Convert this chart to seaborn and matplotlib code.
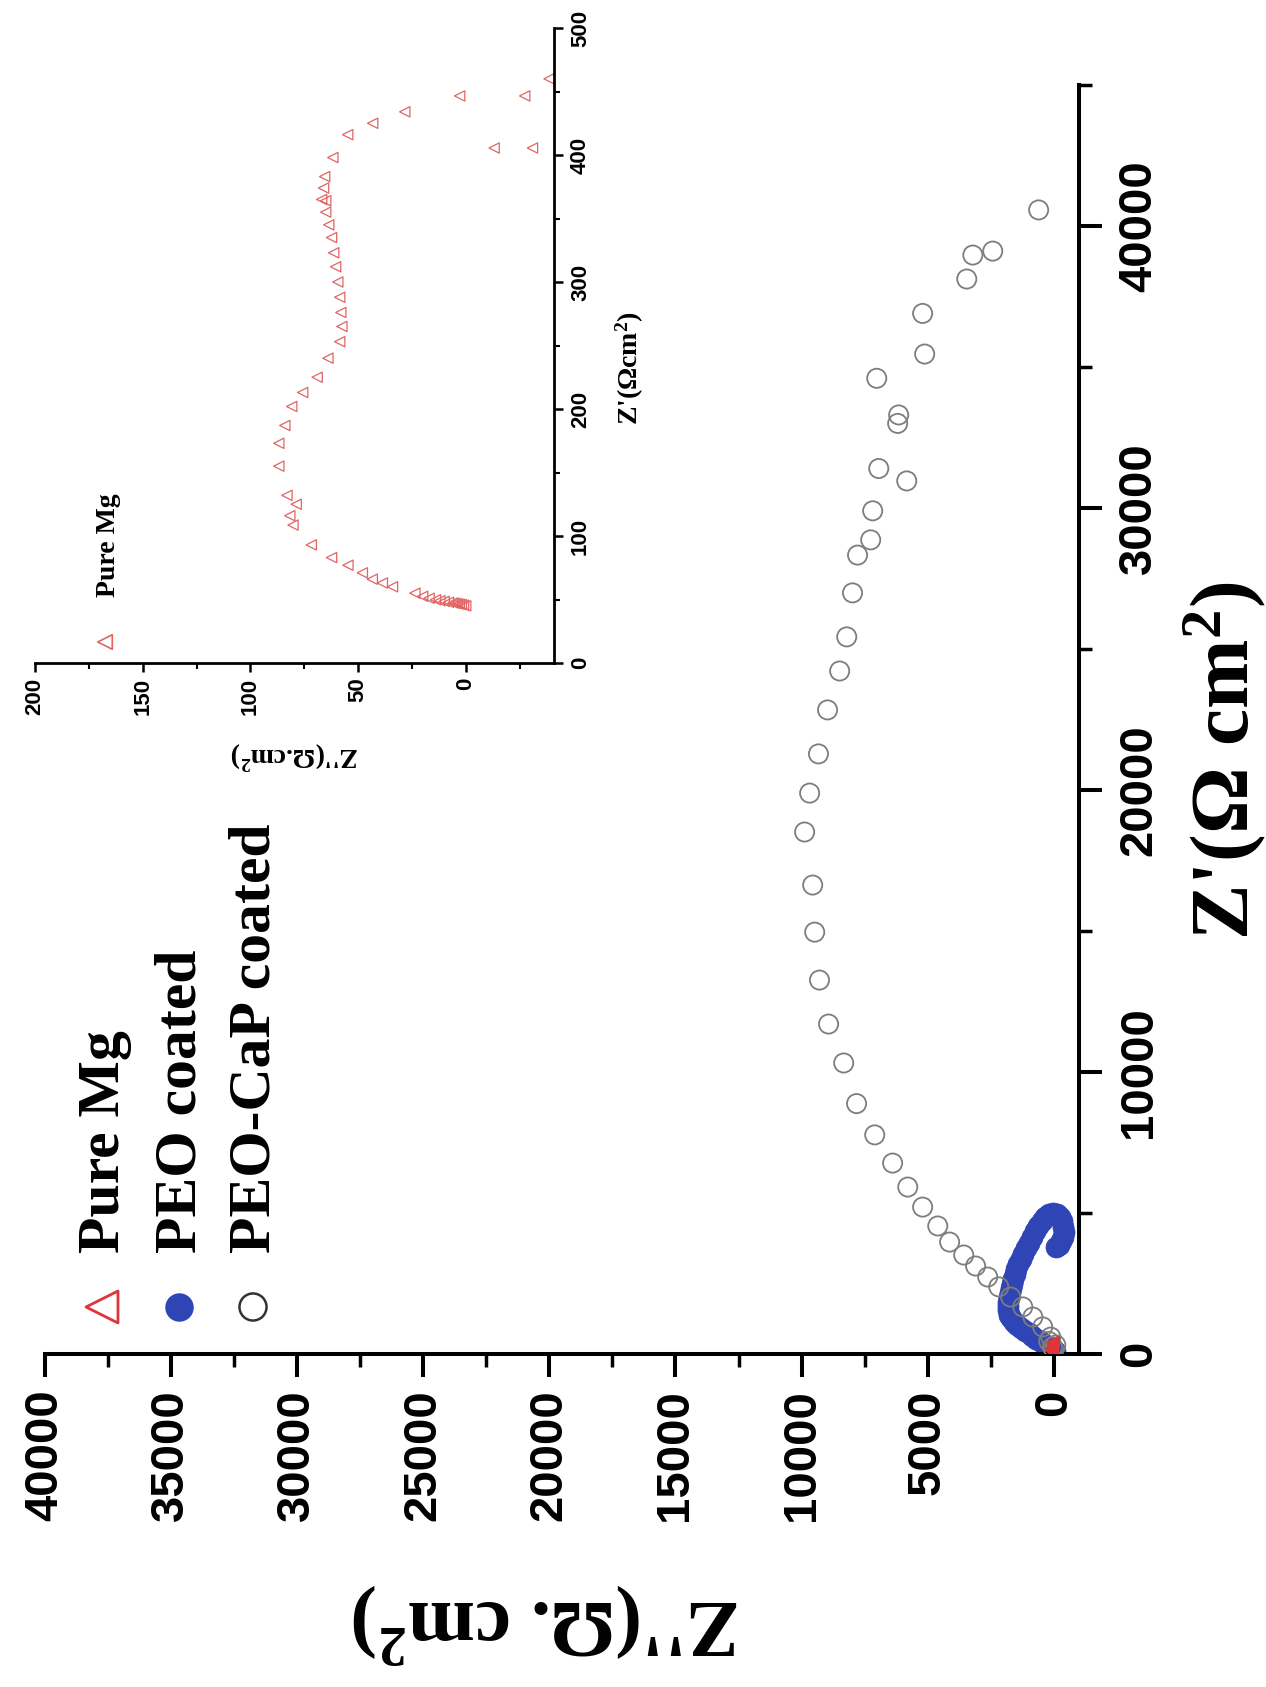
import numpy as np
import pandas as pd
import seaborn as sns
import matplotlib.pyplot as plt
from matplotlib.ticker import MultipleLocator
from matplotlib import font_manager as fm

# ---------------- data (Z'' , Z' in ohm cm^2) ----------------
# PEO-CaP coated (open circles), values in kOhm cm^2
cap_zpp = [0.00, 0.05, 0.20, -0.08, 0.12, 0.44, 0.83, 1.23, 1.71, 2.18, 2.62, 3.10, 3.57,
           4.13, 4.60, 5.20, 5.79, 6.39, 7.10, 7.82, 8.33, 8.93, 9.29, 9.48, 9.56, 9.88,
           9.68, 9.33, 8.97, 8.49, 8.21, 7.98, 7.78, 7.26, 7.18, 5.83, 6.94, 6.19, 6.15,
           7.02, 5.12, 5.20, 3.45, 3.21, 2.42, 0.60]
cap_zp = [0.15, 0.25, 0.45, 0.32, 0.60, 0.96, 1.31, 1.67, 2.02, 2.38, 2.73, 3.12, 3.51,
          3.97, 4.54, 5.21, 5.92, 6.77, 7.77, 8.88, 10.32, 11.70, 13.26, 14.96, 16.63, 18.51,
          19.89, 21.28, 22.84, 24.22, 25.43, 26.99, 28.33, 28.87, 29.90, 30.96, 31.40, 33.00, 33.30,
          34.60, 35.46, 36.90, 38.12, 38.97, 39.11, 40.57]

# PEO coated (filled blue circles), values in kOhm cm^2
peo_zpp = [-0.05, 0.10, 0.25, 0.40, 0.55, 0.70, 0.85, 1.00, 1.15, 1.30, 1.45, 1.58, 1.70,
           1.78, 1.82, 1.82, 1.80, 1.77, 1.73, 1.69, 1.65, 1.60, 1.55, 1.48, 1.40, 1.31,
           1.21, 1.11, 1.00, 0.88, 0.75, 0.62, 0.48, 0.33, 0.18, 0.03, -0.12, -0.25, -0.34,
           -0.38, -0.39, -0.36, -0.30, -0.20, -0.08]
peo_zp = [0.10, 0.18, 0.27, 0.36, 0.45, 0.54, 0.63, 0.73, 0.83, 0.93, 1.04, 1.15, 1.27,
          1.40, 1.55, 1.70, 1.86, 2.02, 2.18, 2.34, 2.50, 2.66, 2.82, 3.00, 3.18, 3.37,
          3.56, 3.75, 3.95, 4.15, 4.35, 4.55, 4.72, 4.86, 4.96, 5.00, 4.96, 4.86, 4.70,
          4.52, 4.34, 4.16, 4.00, 3.88, 3.80]

# Pure Mg (open red triangles), values in Ohm cm^2
mg_zpp = [0, 1, 2, 3, 4, 5, 6, 8, 10, 12, 14, 17, 20, 23.6,
          34, 38.7, 43.4, 48, 54.7, 62.3, 71.7, 80.2, 81.7, 78.7, 83, 86.8, 86.8, 84, 80.8,
          75.7, 69, 64, 58.5, 57.5, 58, 58.5, 59.4, 60.4, 61.3, 62.3, 63.6, 65, 65, 66,
          66.9, 65.5, 61.7, 54.8, 43.2, 28.3, 2.8, -13.2, -27.4, -31, -38.7]
mg_zp = [45, 45.5, 46, 46.3, 46.6, 47, 47.3, 47.8, 48.5, 49, 49.8, 51, 52.5, 55,
         60, 63, 66, 71, 77, 83, 93, 108.6, 116, 125, 132, 155, 173, 187, 202,
         213, 225, 240, 253, 265, 276, 288, 300, 312, 323, 335, 345, 355, 364, 374,
         365, 383, 398, 416, 425, 434, 446.5, 405.5, 446.5, 405.5, 460]

legend_labels = ["Pure Mg", "PEO coated", "PEO-CaP coated"]
main_x_ticks = [0, 5000, 10000, 15000, 20000, 25000, 30000, 35000, 40000]
main_y_ticks = [0, 10000, 20000, 30000, 40000]
inset_x_ticks = [0, 50, 100, 150, 200]
inset_y_ticks = [0, 100, 200, 300, 400, 500]

cap = pd.DataFrame({"Zpp": np.array(cap_zpp) * 1000, "Zp": np.array(cap_zp) * 1000})
peo = pd.DataFrame({"Zpp": np.array(peo_zpp) * 1000, "Zp": np.array(peo_zp) * 1000})
mg = pd.DataFrame({"Zpp": mg_zpp, "Zp": mg_zp})

# ---------------- style ----------------
sns.set_theme(style="white")
plt.rcParams["font.family"] = ["Liberation Sans", "DejaVu Sans"]
plt.rcParams["mathtext.fontset"] = "custom"
plt.rcParams["mathtext.bf"] = "Liberation Serif:bold"
plt.rcParams["mathtext.rm"] = "Liberation Serif:bold"
plt.rcParams["mathtext.default"] = "bf"
for key in ["text.color", "axes.labelcolor", "xtick.color", "ytick.color",
            "xtick.labelcolor", "ytick.labelcolor"]:
    plt.rcParams[key] = "black"


def has_font(name):
    try:
        fm.findfont(fm.FontProperties(family=name), fallback_to_default=False)
        return True
    except Exception:
        return False


if has_font("Liberation Sans Narrow"):
    TICK_FAMILY = ["Liberation Sans Narrow", "Liberation Sans"]
    MAIN_TICK_SIZE = 41
else:
    TICK_FAMILY = ["Liberation Sans", "DejaVu Sans"]
    MAIN_TICK_SIZE = 34
SERIF = ["Liberation Serif", "DejaVu Serif"]

W, H = 1266, 1687
fig = plt.figure(figsize=(W / 100, H / 100), dpi=100)
fig.patch.set_facecolor("white")


def fx(px):
    return px / W


def fy(py):
    return 1 - py / H


BLUE = "#2f45b5"
RED = "#e0343a"
GREY = "#7d7d7d"

# ---------------- main axes ----------------
L, R, T, B = 45, 1079, 85, 1354
ax = fig.add_axes([fx(L), fy(B), fx(R) - fx(L), fy(T) - fy(B)])
ax.set_facecolor("white")

sns.scatterplot(data=cap, x="Zpp", y="Zp", ax=ax, marker="o", s=190,
                facecolors="none", edgecolor=GREY, linewidth=1.3, zorder=3)
coll = ax.collections[-1]
coll.set_facecolor("none"); coll.set_edgecolor(GREY)
sns.scatterplot(data=peo, x="Zpp", y="Zp", ax=ax, marker="o", s=230,
                color=BLUE, edgecolor=BLUE, linewidth=0.5, zorder=2)
sns.scatterplot(data=mg, x="Zpp", y="Zp", ax=ax, marker="<", s=45,
                facecolors="none", edgecolor=RED, linewidth=0.9, zorder=4)
coll = ax.collections[-1]
coll.set_facecolor("none"); coll.set_edgecolor(RED)

ax.set_xlim(40000, -1000)
ax.set_ylim(0, 45000)
ax.set_xlabel("")
ax.set_ylabel("")
for s in ["top", "left"]:
    ax.spines[s].set_visible(False)
for s in ["bottom", "right"]:
    ax.spines[s].set_linewidth(2.9)
    ax.spines[s].set_color("black")
ax.yaxis.tick_right()
ax.set_xticks(main_x_ticks)
ax.set_yticks(main_y_ticks)
ax.xaxis.set_minor_locator(MultipleLocator(2500))
ax.yaxis.set_minor_locator(MultipleLocator(5000))
ax.tick_params(which="major", direction="out", length=16.5, width=2.9, color="black")
ax.tick_params(which="minor", direction="out", length=9.4, width=2.5, color="black")
ax.tick_params(axis="x", which="both", bottom=True, top=False, pad=9)
ax.tick_params(axis="y", which="both", right=True, left=False, pad=11)
ax.set_xticklabels([str(t) for t in main_x_ticks], rotation=90, color="black",
                   fontsize=MAIN_TICK_SIZE, fontweight="bold", family=TICK_FAMILY)
ax.set_yticklabels([str(t) for t in main_y_ticks], rotation=90, va="center", color="black",
                   fontsize=MAIN_TICK_SIZE, fontweight="bold", family=TICK_FAMILY)

# axis titles (whole chart is rotated by 90 degrees)
fig.text(fx(1225), fy(761), "Z'(\u03a9 cm$^{2}$)", rotation=90, ha="center", va="center",
         fontsize=60, fontweight="bold", family=SERIF, color="black")
fig.text(fx(547), fy(1623), "Z''(\u03a9. cm$^{2}$)", rotation=180, ha="center", va="center",
         fontsize=58, fontweight="bold", family=SERIF, color="black")

# legend (manual, rotated)
leg_x = [102, 179, 253]
ax.scatter([fx(leg_x[0])], [fy(1307)], transform=fig.transFigure, marker="<", s=530,
           facecolors="none", edgecolors=RED, linewidths=2.0, clip_on=False)
ax.scatter([fx(leg_x[1])], [fy(1307)], transform=fig.transFigure, marker="o", s=380,
           facecolors=BLUE, edgecolors=BLUE, linewidths=1.0, clip_on=False)
ax.scatter([fx(leg_x[2])], [fy(1307)], transform=fig.transFigure, marker="o", s=380,
           facecolors="none", edgecolors="#333333", linewidths=1.8, clip_on=False)
for xp, lab in zip(leg_x, legend_labels):
    fig.text(fx(xp + 3), fy(1253), lab, rotation=90, ha="center", va="bottom",
             fontsize=43, fontweight="bold", family=SERIF, color="black")

# ---------------- inset ----------------
iL, iR, iT, iB = 35, 554, 28, 663
axi = fig.add_axes([fx(iL), fy(iB), fx(iR) - fx(iL), fy(iT) - fy(iB)])
axi.set_facecolor("none")
sns.scatterplot(data=mg, x="Zpp", y="Zp", ax=axi, marker="<", s=55,
                facecolors="none", edgecolor="#e06464", linewidth=0.9)
coll = axi.collections[-1]
coll.set_facecolor("none"); coll.set_edgecolor("#e06464")
axi.set_xlim(200, -41)
axi.set_ylim(0, 500)
axi.set_xlabel("")
axi.set_ylabel("")
for s in ["top", "left"]:
    axi.spines[s].set_visible(False)
for s in ["bottom", "right"]:
    axi.spines[s].set_linewidth(2.0)
    axi.spines[s].set_color("black")
axi.yaxis.tick_right()
axi.set_xticks(inset_x_ticks)
axi.set_yticks(inset_y_ticks)
axi.xaxis.set_minor_locator(MultipleLocator(25))
axi.yaxis.set_minor_locator(MultipleLocator(50))
axi.tick_params(which="major", direction="out", length=6.5, width=1.8, color="black")
axi.tick_params(which="minor", direction="out", length=4, width=1.5, color="black")
axi.tick_params(axis="x", which="both", bottom=True, top=False, pad=4)
axi.tick_params(axis="y", which="both", right=True, left=False, pad=5)
axi.set_xticklabels([str(t) for t in inset_x_ticks], rotation=90, color="black",
                    fontsize=16, fontweight="bold", family=TICK_FAMILY)
axi.set_yticklabels([str(t) for t in inset_y_ticks], rotation=90, va="center", color="black",
                    fontsize=16, fontweight="bold", family=TICK_FAMILY)
fig.text(fx(630), fy(368), "Z'(\u03a9cm$^{2}$)", rotation=90, ha="center", va="center",
         fontsize=20, fontweight="bold", family=SERIF, color="black")
fig.text(fx(295), fy(755), "Z''(\u03a9.cm$^{2}$)", rotation=180, ha="center", va="center",
         fontsize=20, fontweight="bold", family=SERIF, color="black")
axi.scatter([fx(105)], [fy(642)], transform=fig.transFigure, marker="<", s=110,
            facecolors="none", edgecolors="#e06464", linewidths=1.2, clip_on=False)
fig.text(fx(108), fy(597), legend_labels[0], rotation=90, ha="center", va="bottom",
         fontsize=20, fontweight="bold", family=SERIF, color="black")

fig.savefig("out.png", dpi=100, facecolor="white")
